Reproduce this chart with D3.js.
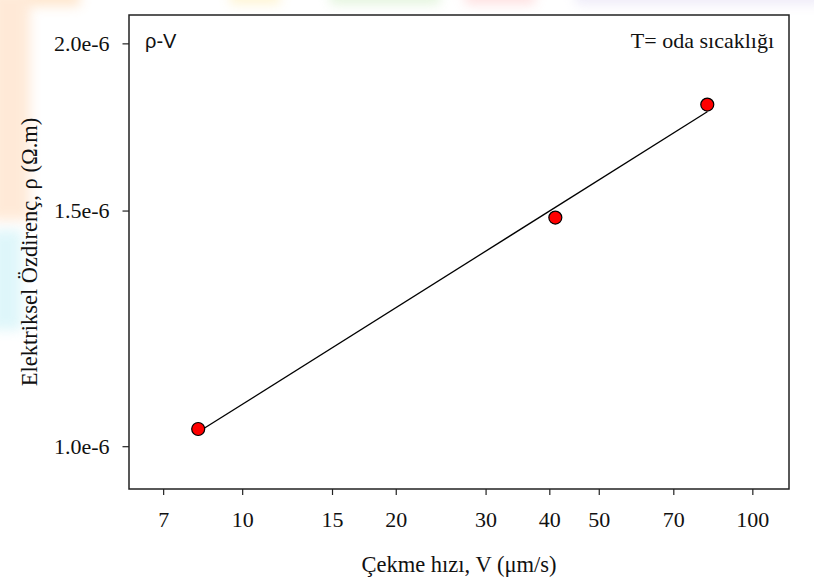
<!DOCTYPE html>
<html>
<head>
<meta charset="utf-8">
<script src="https://cdn.jsdelivr.net/npm/d3@7"></script>
<style>
  html, body { margin: 0; padding: 0; background: #ffffff; }
  svg { display: block; }
</style>
</head>
<body>
<div id="chart"></div>
<script>
// ---- data ----
const speeds = [8.2, 41.1, 81.6];                 // Çekme hızı, V (µm/s)
const resistivity = [1.03e-6, 1.482e-6, 1.80e-6]; // ρ (Ω.m)
const xTicks = [7, 10, 15, 20, 30, 40, 50, 70, 100];
const yTicks = [1.0e-6, 1.5e-6, 2.0e-6];
const yTickLabels = ["1.0e-6", "1.5e-6", "2.0e-6"];
const xDomain = [6, 118];
const yDomain = [0.929e-6, 2.10e-6];

const W = 814, H = 578;
const margin = { left: 129, right: 25, top: 15, bottom: 89 };
const iw = W - margin.left - margin.right;
const ih = H - margin.top - margin.bottom;

const svg = d3.select("#chart").append("svg").attr("width", W).attr("height", H);

// faint background watermark tint
const defs = svg.append("defs");
defs.append("filter").attr("id", "blur").attr("x", "-50%").attr("y", "-50%").attr("width", "200%").attr("height", "200%")
  .append("feGaussianBlur").attr("stdDeviation", 6);
const wm = svg.append("g").attr("filter", "url(#blur)").attr("opacity", 0.45);
const blobs = [
  { x: -10, y: -10, w: 90, h: 16, c: "#ffc890" },
  { x: 230, y: -10, w: 50, h: 14, c: "#ffe89a" },
  { x: 330, y: -10, w: 110, h: 14, c: "#bfe7b0" },
  { x: 465, y: -10, w: 70, h: 14, c: "#ffb8b8" },
  { x: 575, y: -10, w: 250, h: 14, c: "#d8d0f0" },
  { x: -10, y: -10, w: 40, h: 230, c: "#ffd0a8" },
  { x: -10, y: 230, w: 32, h: 100, c: "#b8ecf4" }
];
wm.selectAll("rect").data(blobs).join("rect")
  .attr("x", d => d.x).attr("y", d => d.y).attr("width", d => d.w).attr("height", d => d.h)
  .attr("fill", d => d.c);

const g = svg.append("g").attr("transform", `translate(${margin.left},${margin.top})`);

const x = d3.scaleLog().domain(xDomain).range([0, iw]);
const y = d3.scaleLog().domain(yDomain).range([ih, 0]);

// axes
const serif = "'Liberation Serif', 'Times New Roman', serif";
const xAxis = g.append("g").attr("transform", `translate(0,${ih})`)
  .call(d3.axisBottom(x).tickValues(xTicks).tickFormat(d3.format("d")).tickSize(6).tickPadding(16));
const yAxis = g.append("g")
  .call(d3.axisLeft(y).tickValues(yTicks).tickFormat((d, i) => yTickLabels[i]).tickSize(6.5).tickPadding(13));
[xAxis, yAxis].forEach(a => {
  a.select(".domain").remove();
  a.selectAll(".tick line").attr("stroke", "#222").attr("stroke-width", 1.2);
  a.selectAll(".tick text").attr("fill", "#111").style("font-family", serif).style("font-size", "22px");
});

// frame
g.append("rect").attr("x", 0).attr("y", 0).attr("width", iw).attr("height", ih)
  .attr("fill", "none").attr("stroke", "#222").attr("stroke-width", 1.5);

// power-law fit (least squares in log-log space)
const lx = speeds.map(Math.log10), ly = resistivity.map(Math.log10);
const mx = d3.mean(lx), my = d3.mean(ly);
const slope = d3.sum(lx, (v, i) => (v - mx) * (ly[i] - my)) / d3.sum(lx, v => (v - mx) ** 2);
const icpt = my - slope * mx;
const fitX = [d3.min(speeds), d3.max(speeds)];
g.append("path")
  .datum(fitX.map(v => [v, Math.pow(10, icpt + slope * Math.log10(v))]))
  .attr("d", d3.line().x(d => x(d[0])).y(d => y(d[1])))
  .attr("fill", "none").attr("stroke", "#000").attr("stroke-width", 1.3);

// points
g.selectAll("circle.pt").data(speeds.map((v, i) => [v, resistivity[i]])).join("circle")
  .attr("class", "pt")
  .attr("cx", d => x(d[0])).attr("cy", d => y(d[1])).attr("r", 6.5)
  .attr("fill", "#ff0000").attr("stroke", "#000").attr("stroke-width", 1.2);

// annotations
g.append("text").attr("x", 16).attr("y", 33).text("ρ-V")
  .style("font-family", "'Liberation Sans', Arial, sans-serif").style("font-size", "20px").attr("fill", "#111");
g.append("text").attr("x", iw - 15).attr("y", 33).attr("text-anchor", "end").text("T= oda sıcaklığı")
  .style("font-family", serif).style("font-size", "22px").attr("fill", "#111");

// axis titles
svg.append("text").attr("x", margin.left + iw / 2).attr("y", 572).attr("text-anchor", "middle")
  .text("Çekme hızı, V (μm/s)")
  .style("font-family", serif).style("font-size", "22.5px").attr("fill", "#111");
svg.append("text").attr("transform", `translate(37,${margin.top + ih / 2}) rotate(-90)`).attr("text-anchor", "middle")
  .text("Elektriksel Özdirenç, ρ (Ω.m)")
  .style("font-family", serif).style("font-size", "22.5px").attr("fill", "#111");
</script>
</body>
</html>
